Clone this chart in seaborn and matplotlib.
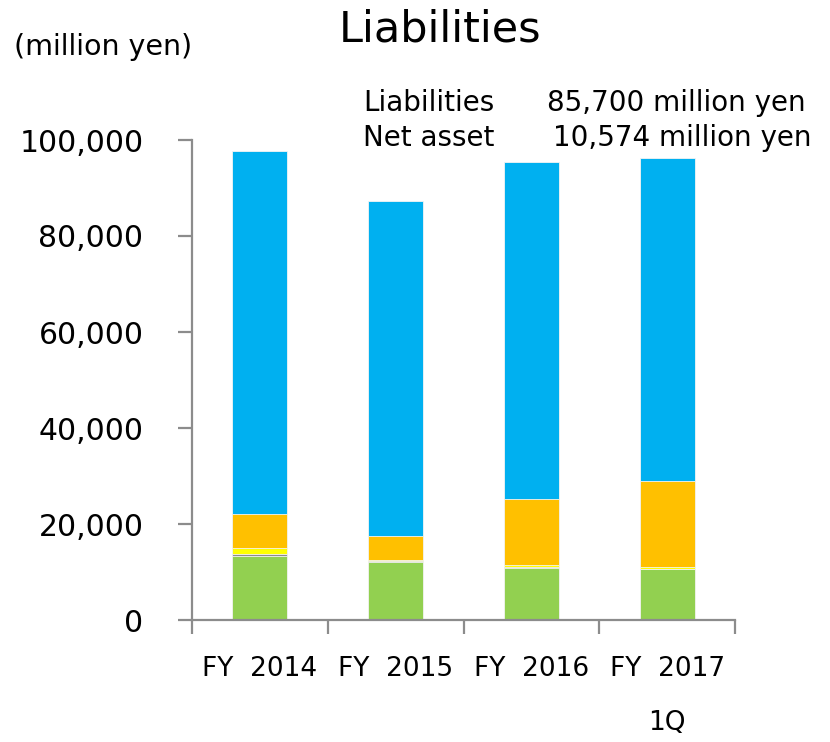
import matplotlib
matplotlib.use("Agg")
import matplotlib.pyplot as plt
import numpy as np
import pandas as pd
import seaborn as sns

# Fiscal periods
periods = ["FY  2014", "FY  2015", "FY  2016", "FY  2017\n1Q"]

# Balance-sheet components (million yen), bottom to top
net_assets = [13300, 12000, 10900, 10574]
minority = [500, 300, 100, 100]
other = [1100, 300, 500, 400]
fixed_liab = [7150, 4900, 13800, 17900]
current_liab = [75650, 69800, 70100, 67300]

layer_names = ["net_assets", "minority", "other", "fixed_liab", "current_liab"]
layer_colors = ["#92D050", "#8C8C8C", "#FFFF00", "#FFC000", "#00B0F0"]

df = pd.DataFrame({
    "period": periods,
    "net_assets": net_assets,
    "minority": minority,
    "other": other,
    "fixed_liab": fixed_liab,
    "current_liab": current_liab,
})
cum = df[layer_names].cumsum(axis=1)

sns.set_style("white")
plt.rcParams["font.family"] = ["DejaVu Sans"]
plt.rcParams["text.color"] = "black"
plt.rcParams["xtick.color"] = "black"
plt.rcParams["ytick.color"] = "black"

fig = plt.figure(figsize=(8.3, 7.42), dpi=100)
ax = fig.add_axes([192 / 830, 122 / 742, 543 / 830, 480 / 742])

# Stacked bars: draw cumulative totals from the top layer down
for name, color in reversed(list(zip(layer_names, layer_colors))):
    sns.barplot(x=df["period"], y=cum[name], color=color, width=0.405,
                saturation=1, edgecolor="#F4F4F4", linewidth=0.6, ax=ax)

ax.set_xlim(-0.5, 3.5)
ax.set_ylim(0, 100000)
ax.set_xlabel("")
ax.set_ylabel("")

spine_color = "#8C8C8C"
for s in ["top", "right"]:
    ax.spines[s].set_visible(False)
for s in ["left", "bottom"]:
    ax.spines[s].set_color(spine_color)
    ax.spines[s].set_linewidth(1.6)

ax.set_yticks(np.arange(0, 100001, 20000))
ax.set_yticklabels([f"{v:,}" for v in range(0, 100001, 20000)], fontsize=21.5)
ax.tick_params(axis="y", direction="out", length=10, width=1.6,
               color=spine_color, labelcolor="black", pad=25, left=True)

ax.set_xticks(range(len(periods)))
ax.set_xticklabels(periods, fontsize=19, linespacing=2.4, va="top")
ax.tick_params(axis="x", which="major", length=0, pad=26, labelcolor="black")
ax.set_xticks(np.arange(-0.5, 3.6, 1.0), minor=True)
ax.tick_params(axis="x", which="minor", direction="out", length=10,
               width=1.6, color=spine_color, bottom=True)

fig.text(440 / 830, 1 - 29 / 742, "Liabilities", fontsize=31,
         ha="center", va="center")
fig.text(14 / 830, 1 - 47 / 742, "(million yen)", fontsize=20.5,
         ha="left", va="center")

fig.text(363 / 830, 1 - 103 / 742, "Liabilities", fontsize=20,
         ha="left", va="center")
fig.text(806 / 830, 1 - 103 / 742, "85,700 million yen", fontsize=20,
         ha="right", va="center")
fig.text(363 / 830, 1 - 138 / 742, "Net asset", fontsize=20,
         ha="left", va="center")
fig.text(811 / 830, 1 - 138 / 742, "10,574 million yen", fontsize=20,
         ha="right", va="center")

fig.savefig("out.png", dpi=100)
